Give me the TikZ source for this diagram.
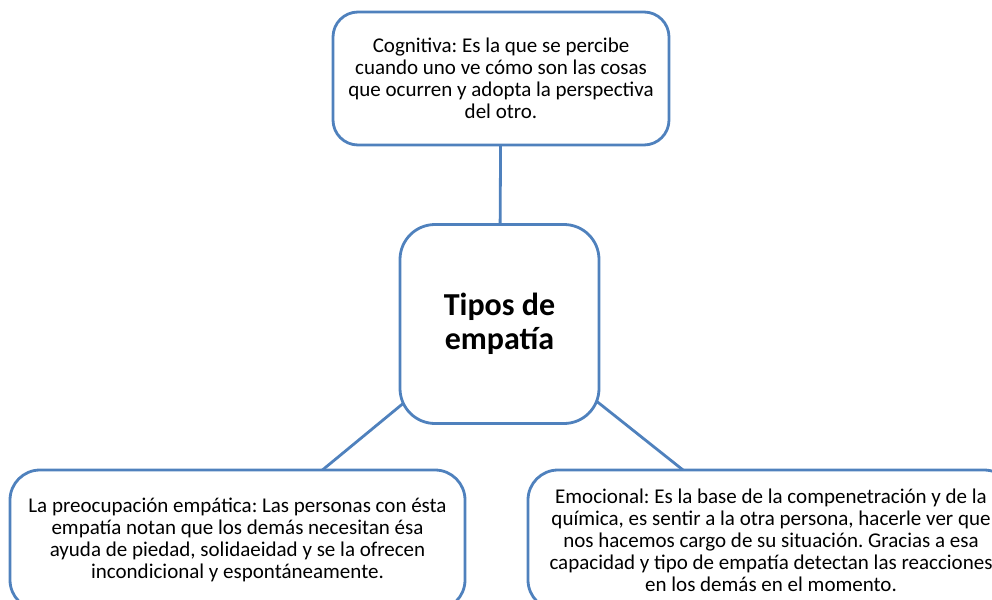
\documentclass[tikz,border=0pt]{standalone}
\usepackage{fontspec}
\setmainfont{Carlito}
\frenchspacing
\usetikzlibrary{positioning,backgrounds}
\definecolor{boxblue}{RGB}{79,129,189}
\tikzset{every picture/.append style={
    line join=round,
    line cap=round
  },
  tipbox/.style={draw=boxblue, line width=2.8pt, fill=white, rounded corners=25pt,
    align=center, inner sep=0pt, font=\fontsize{21}{22}\selectfont},
  mainbox/.style={tipbox, rounded corners=35pt, font=\fontsize{32}{34}\selectfont\bfseries},
  link/.style={draw=boxblue, line width=2.8pt}}

\begin{document}
\begin{tikzpicture}[x=1pt,y=-1pt]
    \useasboundingbox (0,0) rectangle (992,599);
    \clip (0,0) rectangle (992,599);

    \node [mainbox, minimum width=199pt, minimum height=199pt] (tipos) at (499.5,324) {Tipos de\\empatía};
    \node [tipbox, minimum width=336pt, minimum height=133pt] (cogn) at (501,78.5)
        {Cognitiva: Es la que se percibe\\cuando uno ve cómo son las cosas\\que ocurren y adopta la perspectiva\\del otro.};
    \node [tipbox, minimum width=455pt, minimum height=140pt, rounded corners=30pt] (preo) at (237.5,540)
        {La preocupación empática: Las personas con ésta\\empatía notan que los demás necesitan ésa\\ayuda de piedad, solidaeidad y se la ofrecen\\incondicional y espontáneamente.};
    \node [tipbox, minimum width=486pt, minimum height=140pt, rounded corners=30pt] (emoc) at (771,540)
        {Emocional: Es la base de la compenetración y de la\\química, es sentir a la otra persona, hacerle ver que\\nos hacemos cargo de su situación. Gracias a esa\\capacidad y tipo de empatía detectan las reacciones\\en los demás en el momento.};

    \begin{scope}[on background layer]
        \draw [link] (tipos.center) -- (cogn.center);
        \draw [link] (tipos.center) -- (preo.center);
        \draw [link] (tipos.center) -- (emoc.center);
    \end{scope}
\end{tikzpicture}
\end{document}
